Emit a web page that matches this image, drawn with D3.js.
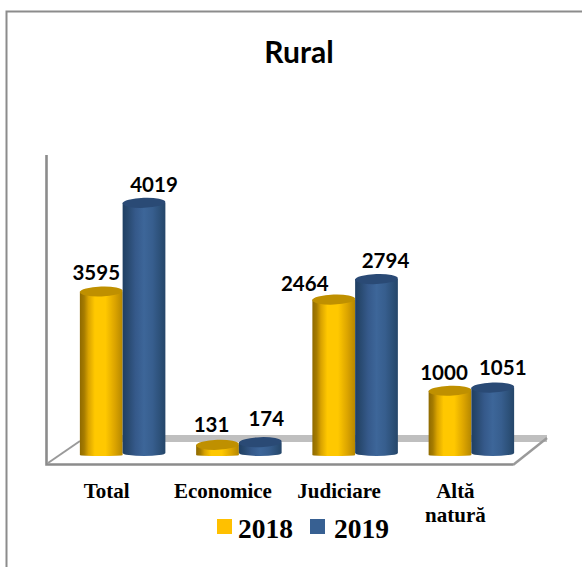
<!DOCTYPE html>
<html>
<head>
<meta charset="utf-8">
<script src="https://cdn.jsdelivr.net/npm/d3@7"></script>
<style>
html,body{margin:0;padding:0;background:#fff;overflow:hidden}
svg{display:block}
</style>
</head>
<body>
<svg id="c" width="582" height="567"></svg>
<script>
const title = "Rural";
const categories = ["Total", "Economice", "Judiciare", "Altă natură"];
const seriesNames = ["2018", "2019"];
// Bar heights as drawn in the picture: the first 2018 bar is drawn near 2595 although its printed label says 3595.
const values2018 = [2595, 131, 2464, 1000];
const values2019 = [4019, 174, 2794, 1051];
const labels2018 = ["3595", "131", "2464", "1000"];
const labels2019 = ["4019", "174", "2794", "1051"];

const W = 582, H = 567;
const svg = d3.select("#c");
const defs = svg.append("defs");

function cylGrad(id, stops) {
  const g = defs.append("linearGradient").attr("id", id).attr("x1", 0).attr("x2", 1).attr("y1", 0).attr("y2", 0);
  stops.forEach(([o, c]) => g.append("stop").attr("offset", o).attr("stop-color", c));
}
cylGrad("g2018", [[0,"#8f6a00"],[.1,"#a67c00"],[.2,"#d9a300"],[.35,"#ffc800"],[.6,"#ffc800"],[.82,"#dba400"],[1,"#b58700"]]);
cylGrad("g2019", [[0,"#1f3f63"],[.12,"#28496f"],[.3,"#35598a"],[.5,"#3d6699"],[.7,"#375e8e"],[.88,"#2c5078"],[1,"#254669"]]);

const colors = {
  "2018": {body:"url(#g2018)", top:"#bf9000", key:"#ffc000"},
  "2019": {body:"url(#g2019)", top:"#2a4a75", key:"#376092"}
};

const frame = "#8c8c8c";
// chart frame: left and top edges only
svg.append("path").attr("d", d3.line()([[6.5,H],[6.5,11.5],[W,11.5]]))
  .attr("fill","none").attr("stroke",frame).attr("stroke-width",2);

// scales
const x0 = d3.scaleBand().domain(categories).range([64.5, 529.5]);
const x1 = d3.scaleBand().domain(seriesNames).range([0, 85.5]);
const y = d3.scaleLinear().domain([0, 4000]).range([453, 204]);

// 3D floor and back wall
svg.append("rect").attr("x",80).attr("y",435).attr("width",467).attr("height",7).attr("fill","#bfbfbf");
svg.append("path").attr("d", d3.line()([[46.5,155],[46.5,464.5],[513,464.5]]))
  .attr("fill","none").attr("stroke",frame).attr("stroke-width",2.6);
svg.append("path").attr("d", d3.line()([[48,463],[80,441]]))
  .attr("fill","none").attr("stroke","#9a9a9a").attr("stroke-width",2);
svg.append("path").attr("d", d3.line()([[513,465],[547,438]]))
  .attr("fill","none").attr("stroke","#9a9a9a").attr("stroke-width",2.4);

// cylinders
const rows = [];
categories.forEach((c,i) => {
  rows.push({c, s:"2018", v:values2018[i], label:labels2018[i]});
  rows.push({c, s:"2019", v:values2019[i], label:labels2019[i]});
});
const bw = x1.bandwidth();
const baseY = y(0) + 3;
const rx = bw / 2, ry = 5;
const g = svg.append("g");
rows.forEach(d => {
  const left = x0(d.c) + (x0.bandwidth() - 85.5)/2 + x1(d.s);
  const top = y(d.v);
  const bottomRy = d.s === "2019" ? 3 : 1;
  g.append("path")
    .attr("d", `M${left},${top}L${left},${baseY - bottomRy}A${rx},${bottomRy} 0 0 0 ${left+bw},${baseY - bottomRy}L${left+bw},${top}Z`)
    .attr("fill", colors[d.s].body);
  g.append("ellipse")
    .attr("cx", left + rx).attr("cy", top).attr("rx", rx).attr("ry", ry)
    .attr("transform", `rotate(-2 ${left+rx} ${top})`)
    .attr("fill", colors[d.s].top);
});

// data labels: hand-placed in the source, offsets from each bar's centre and top
const labelDx = [-5, 10, -6, 6, -29, 9, -6, 10];
const labelDy = [-11, -11, -13, -16, -9, -11, -11, -13];
svg.append("g").selectAll("text").data(rows).join("text")
  .attr("x", (d,i) => x0(d.c) + (x0.bandwidth() - 85.5)/2 + x1(d.s) + rx + labelDx[i])
  .attr("y", (d,i) => y(d.v) + labelDy[i])
  .attr("text-anchor","middle")
  .attr("font-family","Lato, 'Open Sans', sans-serif")
  .attr("font-weight",700).attr("font-size",20.5).attr("fill","#000")
  .text(d => d.label);

// title
svg.append("text").attr("x",299).attr("y",63).attr("text-anchor","middle")
  .attr("font-family","Lato, 'Open Sans', sans-serif").attr("font-weight",700)
  .attr("font-size",30).attr("fill","#000").text(title);

// category axis
const axis = d3.axisBottom(x0).tickSize(0).tickPadding(0);
const ax = svg.append("g").attr("transform","translate(-16,484)").call(axis);
ax.select(".domain").remove();
ax.selectAll("text").each(function(d){
  const t = d3.select(this).text(null).attr("y",0).attr("dy",null)
    .attr("font-family","'Liberation Serif', serif").attr("font-weight",700).attr("font-size",21).attr("fill","#000");
  const parts = d === "Altă natură" ? ["Altă","natură"] : [d];
  parts.forEach((p,i) => t.append("tspan").attr("x",0).attr("y",14 + i*24).text(p));
});

// legend
const legX = d3.scaleOrdinal().domain(seriesNames).range([217, 310]);
const legTextX = d3.scaleOrdinal().domain(seriesNames).range([238, 334]);
const leg = svg.append("g").selectAll("g").data(seriesNames).join("g");
leg.append("rect").attr("x",d=>legX(d)).attr("y",519).attr("width",15).attr("height",15).attr("fill",d=>colors[d].key);
leg.append("text").attr("x",d=>legTextX(d)).attr("y",538)
  .attr("font-family","'Liberation Serif', serif").attr("font-weight",700)
  .attr("font-size",27.5).attr("fill","#000").text(d=>d);
</script>
</body>
</html>
